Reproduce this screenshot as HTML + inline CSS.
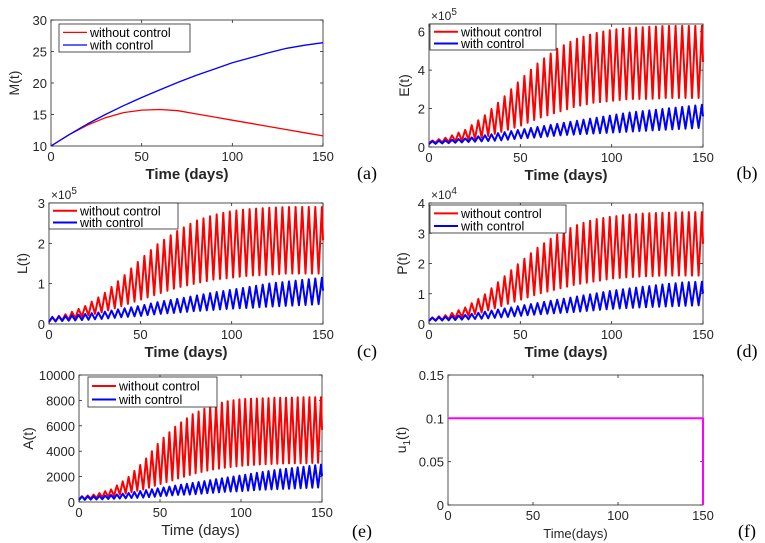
<!DOCTYPE html>
<html><head><meta charset="utf-8"><style>
body{margin:0;background:#fff;}
svg{display:block;font-family:"Liberation Sans",Arial,sans-serif;}
</style></head><body>
<svg id="fig" width="765" height="543" viewBox="0 0 765 543" xmlns="http://www.w3.org/2000/svg"></svg>
<script>
const days = [0,10,20,30,40,50,60,70,80,90,100,110,120,130,140,150];
const oscPeriod = 3.6;
const mRed = [10,11.8,13.3,14.5,15.3,15.7,15.8,15.6,15.1,14.6,14.1,13.6,13.1,12.6,12.1,11.6];
const mBlue = [10,11.8,13.5,15.0,16.4,17.7,18.9,20.1,21.2,22.2,23.2,24.0,24.8,25.5,26.0,26.4];
const eRedHi = [0.3,0.5,0.9,1.6,2.5,3.5,4.4,5.1,5.6,5.9,6.1,6.2,6.25,6.3,6.3,6.3];
const eRedLo = [0.2,0.25,0.35,0.5,0.8,1.1,1.5,1.8,2.1,2.3,2.4,2.5,2.5,2.55,2.55,2.55];
const eBlueHi = [0.3,0.35,0.45,0.6,0.75,0.9,1.05,1.2,1.35,1.5,1.65,1.8,1.9,2.0,2.1,2.2];
const eBlueLo = [0.15,0.2,0.25,0.3,0.35,0.45,0.5,0.6,0.65,0.7,0.75,0.8,0.85,0.9,0.95,1.0];
const lRedHi = [0.15,0.25,0.45,0.75,1.15,1.6,2.0,2.3,2.55,2.7,2.8,2.85,2.88,2.9,2.9,2.9];
const lRedLo = [0.05,0.1,0.2,0.3,0.45,0.6,0.75,0.9,1.0,1.1,1.15,1.2,1.22,1.25,1.25,1.25];
const lBlueHi = [0.17,0.2,0.25,0.3,0.38,0.45,0.55,0.62,0.7,0.78,0.85,0.92,1.0,1.05,1.1,1.15];
const lBlueLo = [0.05,0.08,0.1,0.13,0.17,0.2,0.25,0.28,0.32,0.35,0.38,0.4,0.43,0.45,0.47,0.5];
const pRedHi = [0.2,0.3,0.55,0.95,1.5,2.05,2.55,2.95,3.25,3.45,3.55,3.62,3.66,3.68,3.7,3.7];
const pRedLo = [0.1,0.15,0.25,0.4,0.6,0.8,1.0,1.15,1.3,1.4,1.5,1.55,1.58,1.6,1.6,1.6];
const pBlueHi = [0.2,0.25,0.3,0.4,0.5,0.6,0.7,0.8,0.9,1.0,1.1,1.18,1.25,1.32,1.38,1.4];
const pBlueLo = [0.1,0.12,0.15,0.18,0.22,0.27,0.32,0.36,0.4,0.45,0.5,0.53,0.56,0.58,0.6,0.62];
const aRedHi = [400,600,1000,1900,3200,4800,6000,6900,7500,7900,8100,8150,8200,8220,8250,8250];
const aRedLo = [200,300,450,700,1000,1400,1800,2200,2500,2700,2850,2950,3000,3050,3050,3100];
const aBlueHi = [450,450,550,700,900,1100,1300,1500,1700,1900,2100,2300,2500,2650,2800,2950];
const aBlueLo = [150,200,250,300,350,450,550,600,700,800,850,950,1000,1050,1100,1150];
const uDays = [0,150,150];
const uVals = [0.1,0.1,0];
const xTicks = [0,50,100,150];

const NS="http://www.w3.org/2000/svg";
const svg=document.getElementById('fig');
function mk(tag,attrs,parent){const e=document.createElementNS(NS,tag);for(const k in attrs)e.setAttribute(k,attrs[k]);(parent||svg).appendChild(e);return e;}
function env(arr,t){for(let i=0;i<days.length-1;i++){if(t<=days[i+1]){const f=(t-days[i])/(days[i+1]-days[i]);return arr[i]+f*(arr[i+1]-arr[i]);}}return arr[arr.length-1];}
function oscPts(hi,lo){const pts=[];let t=0,k=0;while(t<=150){pts.push([t,k%2===0?env(lo,t):env(hi,t)]);k++;t=k*oscPeriod/2;}pts.push([150,(env(hi,150)+env(lo,150))/2]);return pts;}

function panel(o){
  const g=mk('g',{});
  
  
  const X=v=>o.x0+(v-0)/150*(o.x1-o.x0);
  const Y=v=>o.y1-(v-o.ymin)/(o.ymax-o.ymin)*(o.y1-o.y0);
  const frame=mk('rect',{x:o.x0,y:o.y0,width:o.x1-o.x0,height:o.y1-o.y0,fill:'#fff',stroke:'#262626','stroke-width':0.8},g);
  
  
  xTicks.forEach(v=>{
    mk('line',{x1:X(v),x2:X(v),y1:o.y1,y2:o.y1-3,stroke:'#262626','stroke-width':0.8},g);
    mk('line',{x1:X(v),x2:X(v),y1:o.y0,y2:o.y0+3,stroke:'#262626','stroke-width':0.8},g);
    const t=mk('text',{x:X(v),y:o.y1+15,'text-anchor':'middle','font-size':13,fill:'#262626'},g);t.textContent=v;
    
    
  });
  o.yTicks.forEach((v,i)=>{
    mk('line',{x1:o.x0,x2:o.x0+3,y1:Y(v),y2:Y(v),stroke:'#262626','stroke-width':0.8},g);
    mk('line',{x1:o.x1,x2:o.x1-3,y1:Y(v),y2:Y(v),stroke:'#262626','stroke-width':0.8},g);
    const t=mk('text',{x:o.x0-4,y:Y(v)+5,'text-anchor':'end','font-size':13,fill:'#262626'},g);t.textContent=o.yLabels[i];
    
    
  });
  if(o.exp){const t=mk('text',{x:o.x0+2,y:o.y0-4,'font-size':12,fill:'#262626'},g);t.innerHTML='×10<tspan dy="-5" font-size="10">'+o.exp+'</tspan>';
    
    }
  o.series.forEach(s=>{
    const d=s.pts.map((p,i)=>(i?'L':'M')+X(p[0]).toFixed(1)+' '+Y(p[1]).toFixed(1)).join('');
    const path=mk('path',{d:d,fill:'none',stroke:s.color,'stroke-width':s.w||1.3,'stroke-linejoin':'round'},g);
    
    
  });
  const cy=(o.y0+o.y1)/2;
  const yl=mk('text',{x:o.x0-o.ylOff,y:cy,'text-anchor':'middle','font-size':14,fill:'#262626',transform:`rotate(-90 ${o.x0-o.ylOff} ${cy})`},g);
  yl.innerHTML=o.ylabel;
  
  
  const xl=mk('text',{x:(o.x0+o.x1)/2,y:o.y1+33,'text-anchor':'middle','font-size':o.xlFs||15,'font-weight':o.xlBold?'bold':'normal',fill:'#262626'},g);
  xl.textContent=o.xlabel;
  
  
  const pl=mk('text',{x:o.lx,y:o.ly,'text-anchor':'middle','font-size':18,'font-family':'Liberation Serif,serif',fill:'#000'},g);
  pl.textContent=o.plabel;
  
  
  if(o.legend){
    const L=o.legend;
    const lg=mk('g',{},g);
    
    
    mk('rect',{x:L.x,y:L.y,width:L.w,height:L.h,fill:'#fff',stroke:'#262626','stroke-width':0.8},lg);
    [['without control','red'],['with control',L.c2||'blue']].forEach((e,i)=>{
      const yy=L.y+L.h*(0.3+0.45*i);
      mk('line',{x1:L.x+4,x2:L.x+28,y1:yy,y2:yy,stroke:e[1],'stroke-width':L.lw||1.3},lg);
      const t=mk('text',{x:L.x+31,y:yy+4.5,'font-size':L.fs||13,fill:'#000'},lg);t.textContent=e[0];
      
      
    });
  }
}
const mPts=a=>days.map((d,i)=>[d,a[i]]);
panel({name:'panel-a-mosquito',x0:51,x1:323,y0:20,y1:146,ymin:10,ymax:30,yTicks:[10,15,20,25,30],yLabels:['10','15','20','25','30'],
  ylabel:'M(t)',ylOff:32,xlabel:'Time (days)',xlBold:true,plabel:'(a)',lx:367,ly:179,
  series:[{name:'m-without-control',color:'red',pts:mPts(mRed)},{name:'m-with-control',color:'blue',pts:mPts(mBlue)}],
  legend:{x:59,y:24,w:131,h:28,fs:12.5}});
panel({name:'panel-b-eggs',x0:429,x1:703,y0:24,y1:147,ymin:0,ymax:6.4,yTicks:[0,2,4,6],yLabels:['0','2','4','6'],exp:'5',
  ylabel:'E(t)',ylOff:20,xlabel:'Time (days)',xlBold:true,plabel:'(b)',lx:747,ly:179,
  series:[{name:'e-without-control',color:'red',w:2,pts:oscPts(eRedHi,eRedLo)},{name:'e-with-control',color:'blue',w:2,pts:oscPts(eBlueHi,eBlueLo)}],
  legend:{x:430,y:24,w:126,h:26,fs:12.5,lw:2}});
panel({name:'panel-c-larvae',x0:49,x1:323,y0:203,y1:324,ymin:0,ymax:3,yTicks:[0,1,2,3],yLabels:['0','1','2','3'],exp:'5',
  ylabel:'L(t)',ylOff:22,xlabel:'Time (days)',xlBold:true,plabel:'(c)',lx:367,ly:357,
  series:[{name:'l-without-control',color:'red',w:2,pts:oscPts(lRedHi,lRedLo)},{name:'l-with-control',color:'blue',w:2,pts:oscPts(lBlueHi,lBlueLo)}],
  legend:{x:49,y:203,w:129,h:26,fs:12.5,lw:2}});
panel({name:'panel-d-pupae',x0:429,x1:703,y0:203,y1:324,ymin:0,ymax:4,yTicks:[0,1,2,3,4],yLabels:['0','1','2','3','4'],exp:'4',
  ylabel:'P(t)',ylOff:22,xlabel:'Time (days)',xlBold:true,plabel:'(d)',lx:747,ly:357,
  series:[{name:'p-without-control',color:'red',w:2,pts:oscPts(pRedHi,pRedLo)},{name:'p-with-control',color:'blue',w:2,pts:oscPts(pBlueHi,pBlueLo)}],
  legend:{x:430,y:205,w:136,h:28,fs:12.5,lw:2}});
panel({name:'panel-e-adults',x0:79,x1:322,y0:375,y1:502,ymin:0,ymax:10000,yTicks:[0,2000,4000,6000,8000,10000],yLabels:['0','2000','4000','6000','8000','10000'],
  ylabel:'A(t)',ylOff:46,xlabel:'Time (days)',xlBold:false,plabel:'(e)',lx:362,ly:537,
  series:[{name:'a-without-control',color:'red',w:2,pts:oscPts(aRedHi,aRedLo)},{name:'a-with-control',color:'blue',w:2,pts:oscPts(aBlueHi,aBlueLo)}],
  legend:{x:88,y:377,w:129,h:30,fs:12.5,lw:2,c2:'blue'}});
panel({name:'panel-f-control',x0:448,x1:703,y0:375,y1:505,ymin:0,ymax:0.15,yTicks:[0,0.05,0.1,0.15],yLabels:['0','0.05','0.1','0.15'],
  ylabel:'u<tspan dy="4" font-size="10">1</tspan><tspan dy="-4">(t)</tspan>',ylOff:42,xlabel:'Time(days)',xlFs:13,plabel:'(f)',lx:747,ly:537,
  series:[{name:'u1-control',color:'#ff00ff',w:2,pts:uDays.map((d,i)=>[d,uVals[i]])}]});
</script>
</body></html>
